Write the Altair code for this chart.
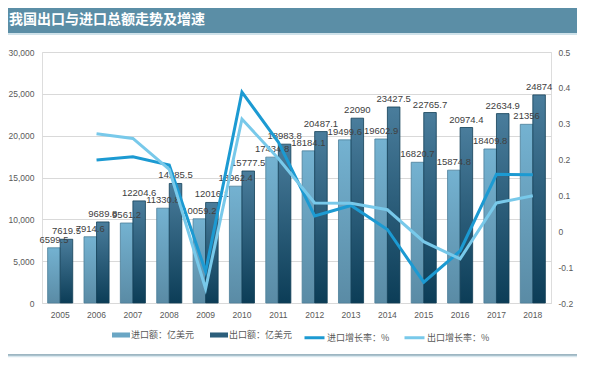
import altair as alt
import pandas as pd

years = [str(y) for y in range(2005, 2019)]
imports = [6599.5, 7914.6, 9561.2, 11330.8, 10059.2, 13962.4, 17434.8, 18184.1,
           19499.6, 19602.9, 16820.7, 15874.8, 18409.8, 21356]
exports = [7619.5, 9689.8, 12204.6, 14285.5, 12016.1, 15777.5, 18983.8, 20487.1,
           22090, 23427.5, 22765.7, 20974.4, 22634.9, 24874]
import_growth = [None, 0.199, 0.208, 0.185, -0.112, 0.388, 0.249, 0.043,
                 0.072, 0.005, -0.142, -0.055, 0.159, 0.158]
export_growth = [None, 0.272, 0.259, 0.173, -0.160, 0.313, 0.203, 0.079,
                 0.078, 0.060, -0.029, -0.077, 0.079, 0.099]

bar_series = ["进口额：亿美元", "出口额：亿美元"]
line_series = ["进口增长率：%", "出口增长率：%"]
title_text = "我国出口与进口总额走势及增速"
left_ticks = [0, 5000, 10000, 15000, 20000, 25000, 30000]
right_ticks = [-0.2, -0.1, 0, 0.1, 0.2, 0.3, 0.4, 0.5]

rows = []
for i, y in enumerate(years):
    rows.append({"year": y, "series": bar_series[0], "value": imports[i], "label": f"{imports[i]:g}"})
    rows.append({"year": y, "series": bar_series[1], "value": exports[i], "label": f"{exports[i]:g}"})
bars_df = pd.DataFrame(rows)

lrows = []
for i, y in enumerate(years):
    if import_growth[i] is not None:
        lrows.append({"year": y, "series": line_series[0], "value": import_growth[i]})
    if export_growth[i] is not None:
        lrows.append({"year": y, "series": line_series[1], "value": export_growth[i]})
lines_df = pd.DataFrame(lrows)

NUMFONT = "Liberation Sans, Noto Sans CJK SC, sans-serif"
CJK = "Noto Sans CJK SC"
GRAY = "#595959"
AXFS = 8.5

x_enc = alt.X("year:O", title=None, sort=years,
              scale=alt.Scale(paddingInner=0.31, paddingOuter=0.155),
              axis=alt.Axis(labelAngle=0, domain=True, domainColor="#d9d9d9", ticks=False,
                            labelPadding=7, labelFontSize=AXFS, labelColor=GRAY, labelFont=NUMFONT))
xoff = alt.XOffset("series:N", scale=alt.Scale(domain=bar_series, paddingInner=0, paddingOuter=0))
y_left = alt.Y("value:Q", title=None, scale=alt.Scale(domain=[0, 30000], nice=False),
               axis=alt.Axis(orient="left", values=left_ticks, grid=True, gridColor="#d9d9d9",
                             domain=False, ticks=False, labelPadding=8, labelFontSize=AXFS,
                             labelColor=GRAY, labelFont=NUMFONT))

grad_imp = alt.Gradient(gradient="linear", x1=0, x2=0, y1=0, y2=1,
                        stops=[alt.GradientStop(color="#74b2d1", offset=0),
                               alt.GradientStop(color="#5a8ba5", offset=1)])
grad_exp = alt.Gradient(gradient="linear", x1=0, x2=0, y1=0, y2=1,
                        stops=[alt.GradientStop(color="#4a7d9c", offset=0),
                               alt.GradientStop(color="#0c3d57", offset=1)])

base_bars = alt.Chart(bars_df)
imp_bars = base_bars.transform_filter(alt.datum.series == bar_series[0]).mark_bar(
    color=grad_imp, stroke="#4d7f99", strokeWidth=0.8).encode(x=x_enc, xOffset=xoff, y=y_left)
exp_bars = base_bars.transform_filter(alt.datum.series == bar_series[1]).mark_bar(
    color=grad_exp, stroke="#123f57", strokeWidth=0.8).encode(x=x_enc, xOffset=xoff, y=y_left)

legend_bars = base_bars.mark_bar().encode(
    x=x_enc, y=alt.datum(0),
    fill=alt.Fill("series:N", scale=alt.Scale(domain=bar_series, range=["#6aa6c4", "#2c5f7b"]),
                  legend=alt.Legend(orient="none", legendX=70, legendY=274, direction="horizontal",
                                    title=None, symbolType="M-1,-0.28H1V0.28H-1Z", symbolSize=324,
                                    symbolStrokeWidth=0, labelFontSize=9, labelColor=GRAY,
                                    labelFont=CJK, columnPadding=15, labelOffset=1)))

labels = base_bars.mark_text(baseline="bottom", dy=-3, fontSize=9.5, color="#404040",
                             font=NUMFONT).encode(x=x_enc, xOffset=xoff, y=y_left, text="label:N")

one = pd.DataFrame({"k": [0]})
banner = alt.Chart(one).mark_rect(color="#5b8ea6").encode(
    x=alt.value(-34), x2=alt.value(535), y=alt.value(-44), y2=alt.value(-19))
banner_strip = alt.Chart(one).mark_rect(color="#cfe2ea").encode(
    x=alt.value(-34), x2=alt.value(535), y=alt.value(-19), y2=alt.value(-17))
title = alt.Chart(one).mark_text(text=title_text, align="left", baseline="middle", fontSize=14,
                                 fontWeight="bold", color="white", font=CJK).encode(
    x=alt.value(-33), y=alt.value(-32))
bottom_line = alt.Chart(one).mark_rule(color="#7d9eae", strokeWidth=1.5).encode(
    x=alt.value(-34), x2=alt.value(535), y=alt.value(303))
bottom_line2 = alt.Chart(one).mark_rule(color="#d8e7ee", strokeWidth=1.5).encode(
    x=alt.value(-34), x2=alt.value(535), y=alt.value(304.5))

left = alt.layer(banner, banner_strip, title, bottom_line, bottom_line2,
                 imp_bars, exp_bars, legend_bars, labels)

lines = alt.Chart(lines_df).mark_line(strokeWidth=3, strokeJoin="miter").encode(
    x=x_enc,
    y=alt.Y("value:Q", title=None, scale=alt.Scale(domain=[-0.2, 0.5], nice=False, zero=False),
            axis=alt.Axis(orient="right", values=right_ticks, grid=False, domain=False, ticks=False,
                          labelPadding=7, labelFontSize=AXFS, labelColor=GRAY, labelFont=NUMFONT,
                          labelExpr="datum.value < 0 ? '-' + format(-datum.value, '~g') : format(datum.value, '~g')")),
    stroke=alt.Stroke("series:N", scale=alt.Scale(domain=line_series, range=["#1c9ad2", "#78c9ea"]),
                      legend=alt.Legend(orient="none", legendX=261, legendY=274, direction="horizontal",
                                        title=None, symbolType="stroke", symbolSize=400,
                                        symbolStrokeWidth=3, labelFontSize=9, labelColor=GRAY,
                                        labelFont=CJK, columnPadding=8, labelOffset=1)),
    order=alt.Order("year:O"),
)

chart = alt.layer(left, lines).resolve_scale(y="independent").properties(
    width=509, height=251,
    autosize=alt.AutoSizeParams(type="none"),
    padding={"left": 34, "top": 44, "right": 41, "bottom": 66},
).configure_view(stroke=None).configure(background="white")

chart.save("out.html", embed_options={"renderer": "svg", "actions": False})
